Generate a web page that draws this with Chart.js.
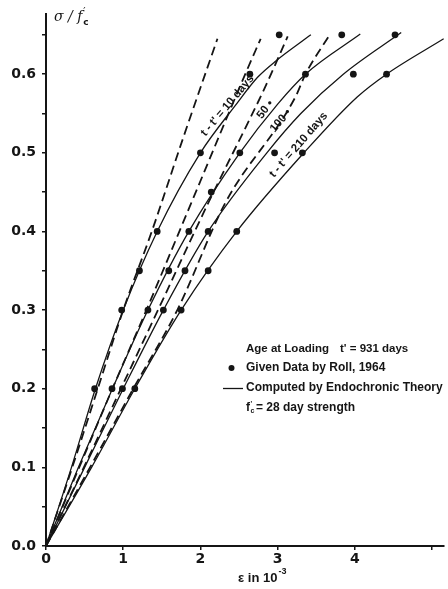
<!DOCTYPE html>
<html lang="en">
<head>
<meta charset="UTF-8">
<title>Endochronic theory vs. Roll 1964</title>
<script src="https://cdn.jsdelivr.net/npm/chart.js"></script>
<style>
  html, body { margin: 0; padding: 0; background: #fff; }
  #wrap { width: 448px; height: 589px; }
</style>
</head>
<body>
<div id="wrap"><canvas id="myChart" width="448" height="589"></canvas></div>
<script>
// strain in 10^-3 (x), stress ratio sigma/f'c (y)

// measured points, Roll 1964
var rollStrain = [0.63, 0.855, 0.99, 1.15, 0.98, 1.32, 1.52, 1.75, 1.21, 1.59, 1.80, 2.10,
                  1.44, 1.85, 2.10, 2.47, 2.14, 2.00, 2.51, 2.96, 3.32, 2.64, 3.36, 3.98, 4.41,
                  3.02, 3.83, 4.52];
var rollStress = [0.2, 0.2, 0.2, 0.2, 0.3, 0.3, 0.3, 0.3, 0.35, 0.35, 0.35, 0.35,
                  0.4, 0.4, 0.4, 0.4, 0.45, 0.5, 0.5, 0.5, 0.5, 0.6, 0.6, 0.6, 0.6,
                  0.65, 0.65, 0.65];

// endochronic theory, solid curves
var theory10x  = [0, 0.33, 0.64, 1.00, 1.44, 2.00, 2.45, 2.74, 2.98, 3.43];
var theory10y  = [0, 0.1, 0.2, 0.3, 0.4, 0.5, 0.56, 0.596, 0.617, 0.65];
var theory50x  = [0, 0.42, 0.86, 1.32, 1.85, 2.51, 3.00, 3.36, 4.07];
var theory50y  = [0, 0.1, 0.2, 0.3, 0.4, 0.5, 0.562, 0.6, 0.651];
var theory100x = [0, 0.50, 1.00, 1.52, 2.10, 2.86, 3.30, 3.85, 4.60];
var theory100y = [0, 0.1, 0.2, 0.3, 0.4, 0.5, 0.55, 0.6, 0.653];
var theory210x = [0, 0.59, 1.15, 1.75, 2.47, 3.34, 4.03, 4.41, 5.15];
var theory210y = [0, 0.1, 0.2, 0.3, 0.4, 0.5, 0.571, 0.6, 0.645];

// dashed curves
var dash10x  = [0, 0.34, 0.67, 1.00, 1.37, 1.78, 2.22];
var dash10y  = [0, 0.1, 0.2, 0.3, 0.4, 0.52, 0.645];
var dash50x  = [0, 0.43, 0.86, 1.30, 1.88, 2.58, 2.78];
var dash50y  = [0, 0.1, 0.2, 0.3, 0.436, 0.6, 0.645];
var dash100x = [0, 0.49, 0.97, 1.45, 2.10, 2.83, 3.13];
var dash100y = [0, 0.1, 0.2, 0.3, 0.436, 0.582, 0.648];
var dash210x = [0, 0.57, 1.13, 1.70, 2.32, 3.23, 3.36, 3.68];
var dash210y = [0, 0.1, 0.2, 0.3, 0.436, 0.571, 0.6, 0.651];

var xTicks = [0, 1, 2, 3, 4];
var yTicks = [0, 0.1, 0.2, 0.3, 0.4, 0.5, 0.6];

function pts(xs, ys) {
    return xs.map(function (x, i) { return { x: x, y: ys[i] }; });
}

function curve(xs, ys, dashed) {
    return {
        data: pts(xs, ys),
        showLine: true,
        pointRadius: 0,
        borderColor: '#151515',
        borderWidth: dashed ? 1.8 : 1.3,
        borderDash: dashed ? [9, 5] : [],
        cubicInterpolationMode: 'monotone',
        fill: false
    };
}

// texts that are not part of the axes: titles, legend, curve labels
var textPlugin = {
    id: 'texts',
    afterDraw: function (chart) {
        var ctx = chart.ctx;
        var sx = chart.scales.x, sy = chart.scales.y;
        ctx.save();
        ctx.fillStyle = '#151515';
        ctx.strokeStyle = '#151515';

        // y title  sigma / f'c
        ctx.textBaseline = 'alphabetic';
        ctx.font = 'italic 14px "DejaVu Serif"';
        ctx.fillText('σ / f', 54, 21);
        var w = ctx.measureText('σ / f').width;
        ctx.font = '10px "DejaVu Sans"';
        ctx.fillText('′', 54 + w + 1, 15);
        ctx.font = 'bold 9px "DejaVu Sans"';
        ctx.fillText('c', 54 + w + 1, 25);

        // x title
        ctx.font = 'bold 13px "Liberation Sans"';
        ctx.textAlign = 'left';
        ctx.fillText('ε in 10', 238, 582);
        var w2 = ctx.measureText('ε in 10').width;
        ctx.font = 'bold 9px "Liberation Sans"';
        ctx.fillText('-3', 238 + w2 + 1, 574);

        // legend
        ctx.textBaseline = 'middle';
        ctx.font = 'bold 11.5px "Liberation Sans"';
        ctx.fillText('Age at Loading', 246, 349);
        ctx.fillText("t' = 931 days", 340, 349);
        ctx.font = 'bold 12px "Liberation Sans"';
        ctx.beginPath();
        ctx.arc(231.5, 368, 3, 0, Math.PI * 2);
        ctx.fill();
        ctx.fillText('Given Data by Roll, 1964', 246, 368);
        ctx.lineWidth = 1.3;
        ctx.beginPath();
        ctx.moveTo(223, 388.5);
        ctx.lineTo(243, 388.5);
        ctx.stroke();
        ctx.fillText('Computed by Endochronic Theory', 246, 388);
        ctx.fillText('f', 246, 408);
        var wf = ctx.measureText('f').width;
        ctx.font = 'bold 7px "Liberation Sans"';
        ctx.fillText("'", 246 + wf + 0.5, 404);
        ctx.fillText('c', 246 + wf + 0.5, 411);
        ctx.font = 'bold 12px "Liberation Sans"';
        ctx.fillText('= 28 day strength', 246 + wf + 6, 408);

        // rotated labels along the curves
        function rot(text, x, y, deg) {
            ctx.save();
            ctx.translate(sx.getPixelForValue(x), sy.getPixelForValue(y));
            ctx.rotate(deg * Math.PI / 180);
            ctx.textAlign = 'center';
            ctx.textBaseline = 'middle';
            ctx.fillText(text, 0, 0);
            ctx.restore();
        }
        ctx.font = 'bold 11.5px "Liberation Sans"';
        rot("t - t' = 10 days", 2.35, 0.56, -50);
        rot('50 •', 2.84, 0.555, -52);
        rot('100 •', 3.04, 0.541, -50);
        rot("t - t' = 210 days", 3.27, 0.51, -49);
        ctx.restore();
    }
};

var ctx = document.getElementById('myChart').getContext('2d');
var myChart = new Chart(ctx, {
    type: 'scatter',
    data: {
        datasets: [
            curve(dash10x, dash10y, true),
            curve(dash50x, dash50y, true),
            curve(dash100x, dash100y, true),
            curve(dash210x, dash210y, true),
            curve(theory10x, theory10y, false),
            curve(theory50x, theory50y, false),
            curve(theory100x, theory100y, false),
            curve(theory210x, theory210y, false),
            {
                data: pts(rollStrain, rollStress),
                showLine: false,
                pointRadius: 3.4,
                pointBackgroundColor: '#151515',
                pointBorderWidth: 0
            }
        ]
    },
    options: {
        responsive: false,
        animation: false,
        layout: { padding: { top: 10, right: 0, left: 0, bottom: 0 } },
        plugins: { legend: { display: false }, tooltip: { enabled: false } },
        scales: {
            x: {
                type: 'linear',
                min: 0,
                max: 5.154,
                border: { display: true, color: '#151515', width: 2 },
                grid: { drawOnChartArea: false, drawTicks: true, tickLength: 4, color: '#151515', lineWidth: 1.5 },
                ticks: {
                    stepSize: 1,
                    includeBounds: false,
                    autoSkip: false,
                    maxRotation: 0,
                    padding: 1,
                    color: '#151515',
                    font: { family: 'DejaVu Sans', size: 14, weight: 'bold' },
                    callback: function (v) { return xTicks.indexOf(v) >= 0 ? String(v) : ''; }
                },
                afterFit: function (scale) { scale.height = 43; }
            },
            y: {
                type: 'linear',
                min: 0,
                max: 0.676,
                border: { display: true, color: '#151515', width: 2 },
                grid: { drawOnChartArea: false, drawTicks: true, tickLength: 4, color: '#151515', lineWidth: 1.5 },
                ticks: {
                    stepSize: 0.05,
                    includeBounds: false,
                    autoSkip: false,
                    padding: 6,
                    color: '#151515',
                    font: { family: 'DejaVu Sans', size: 14, weight: 'bold' },
                    callback: function (v) {
                        for (var i = 0; i < yTicks.length; i++) {
                            if (Math.abs(v - yTicks[i]) < 1e-6) return yTicks[i].toFixed(1);
                        }
                        return '';
                    }
                },
                afterFit: function (scale) { scale.width = 46; }
            }
        }
    },
    plugins: [textPlugin]
});
</script>
</body>
</html>
